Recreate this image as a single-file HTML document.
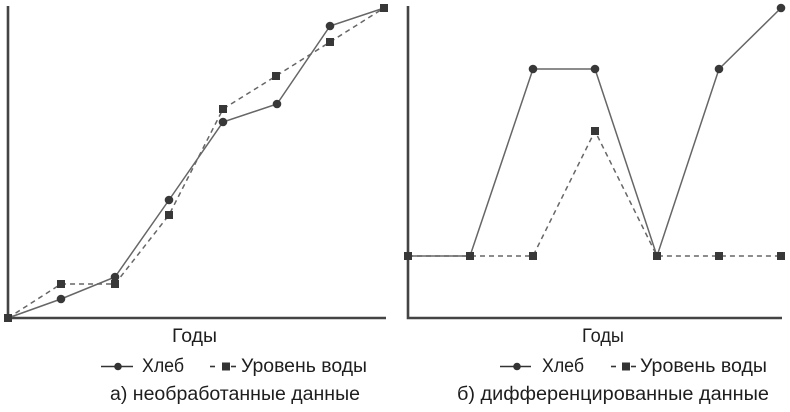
<!DOCTYPE html>
<html>
<head>
<meta charset="utf-8">
<style>
  html, body { margin: 0; padding: 0; background: #fff; }
  svg { display: block; }
  text { font-family: "Liberation Sans", "Noto Sans CJK SC", sans-serif; font-size: 19px; fill: #1e1e1e; }
</style>
</head>
<body>
<svg width="790" height="412" viewBox="0 0 790 412" xmlns="http://www.w3.org/2000/svg">
  <rect width="790" height="412" fill="#fff"/>

  <!-- Left panel axes -->
  <path d="M8,6 V318 H386" fill="none" stroke="#444" stroke-width="2.6"/>
  <!-- Left water (dashed) -->
  <polyline points="8,318 61,284 115,284 169,215 223,109 276,76 330,42 384,8" fill="none" stroke="#666" stroke-width="1.5" stroke-dasharray="5,4"/>
  <!-- Left bread (solid) -->
  <polyline points="8,318 61,299 115,277 169,200 223,122 277,104 330,26 384,8" fill="none" stroke="#666" stroke-width="1.5"/>
  <g fill="#383838">
    <circle cx="61" cy="299" r="4.3"/>
    <circle cx="115" cy="277" r="4.3"/>
    <circle cx="169" cy="200" r="4.3"/>
    <circle cx="223" cy="122" r="4.3"/>
    <circle cx="277" cy="104" r="4.3"/>
    <circle cx="330" cy="26" r="4.3"/>
    <rect x="4" y="314" width="8" height="8"/>
    <rect x="57" y="280" width="8" height="8"/>
    <rect x="111" y="280" width="8" height="8"/>
    <rect x="165" y="211" width="8" height="8"/>
    <rect x="219" y="105" width="8" height="8"/>
    <rect x="272" y="72" width="8" height="8"/>
    <rect x="326" y="38" width="8" height="8"/>
    <rect x="380" y="4" width="8" height="8"/>
  </g>

  <!-- Right panel axes -->
  <path d="M408,6 V318 H782" fill="none" stroke="#444" stroke-width="2.6"/>
  <!-- Right water (dashed) -->
  <polyline points="408,256 470,256 533,256 595,131 657,256 719,256 781,256" fill="none" stroke="#666" stroke-width="1.5" stroke-dasharray="5,4"/>
  <!-- Right bread (solid) -->
  <polyline points="408,256 470,256 533,69 595,69 657,256 719,69 781,8" fill="none" stroke="#666" stroke-width="1.5"/>
  <g fill="#383838">
    <circle cx="533" cy="69" r="4.3"/>
    <circle cx="595" cy="69" r="4.3"/>
    <circle cx="719" cy="69" r="4.3"/>
    <circle cx="781" cy="8" r="4.3"/>
    <rect x="404" y="252" width="8" height="8"/>
    <rect x="466" y="252" width="8" height="8"/>
    <rect x="529" y="252" width="8" height="8"/>
    <rect x="591" y="127" width="8" height="8"/>
    <rect x="653" y="252" width="8" height="8"/>
    <rect x="715" y="252" width="8" height="8"/>
    <rect x="777" y="252" width="8" height="8"/>
  </g>

  <!-- Left labels -->
  <text x="172" y="342" textLength="45" lengthAdjust="spacingAndGlyphs">Годы</text>
  <line x1="101" y1="366.5" x2="133" y2="366.5" stroke="#333" stroke-width="1.6"/>
  <circle cx="118" cy="366.5" r="3.8" fill="#333"/>
  <text x="142" y="372" textLength="42" lengthAdjust="spacingAndGlyphs">Хлеб</text>
  <line x1="210" y1="366.5" x2="215" y2="366.5" stroke="#333" stroke-width="1.6"/>
  <rect x="222" y="362.5" width="8" height="8" fill="#333"/>
  <line x1="231" y1="366.5" x2="236" y2="366.5" stroke="#333" stroke-width="1.6"/>
  <text x="241" y="372" textLength="126" lengthAdjust="spacingAndGlyphs">Уровень воды</text>
  <text x="110" y="400" textLength="250" lengthAdjust="spacingAndGlyphs">а) необработанные данные</text>

  <!-- Right labels -->
  <text x="582" y="342" textLength="42" lengthAdjust="spacingAndGlyphs">Годы</text>
  <line x1="500" y1="366.5" x2="531" y2="366.5" stroke="#333" stroke-width="1.6"/>
  <circle cx="517" cy="366.5" r="3.8" fill="#333"/>
  <text x="542" y="372" textLength="42" lengthAdjust="spacingAndGlyphs">Хлеб</text>
  <line x1="611" y1="366.5" x2="616" y2="366.5" stroke="#333" stroke-width="1.6"/>
  <rect x="622" y="362.5" width="8" height="8" fill="#333"/>
  <line x1="631" y1="366.5" x2="636" y2="366.5" stroke="#333" stroke-width="1.6"/>
  <text x="640" y="372" textLength="127" lengthAdjust="spacingAndGlyphs">Уровень воды</text>
  <text x="457" y="400" textLength="312" lengthAdjust="spacingAndGlyphs">б) дифференцированные данные</text>
</svg>
</body>
</html>
